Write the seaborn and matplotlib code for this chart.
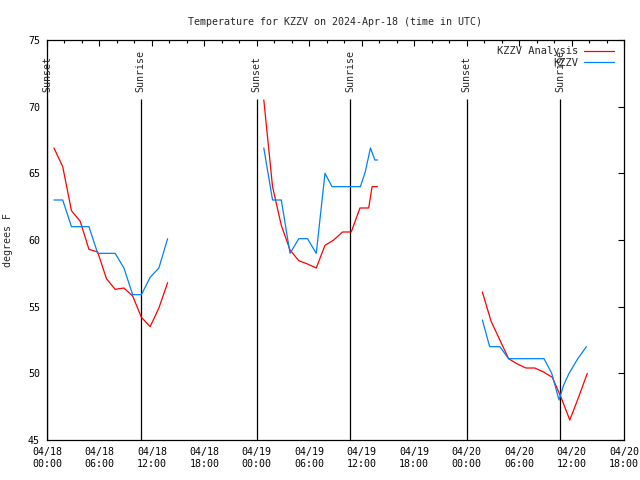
import pandas as pd
import matplotlib
matplotlib.use("Agg")
import matplotlib.pyplot as plt
import matplotlib.dates as mdates
from matplotlib.lines import Line2D
import seaborn as sns

# analysis (red) and station obs (blue), one block per day
day1_times = ["2024-04-18 00:48", "2024-04-18 01:48", "2024-04-18 02:48", "2024-04-18 03:48",
              "2024-04-18 04:48", "2024-04-18 05:48", "2024-04-18 06:48", "2024-04-18 07:48",
              "2024-04-18 08:48", "2024-04-18 09:48", "2024-04-18 10:48", "2024-04-18 11:48",
              "2024-04-18 12:48", "2024-04-18 13:48"]
day1_analysis = [66.9, 65.5, 62.2, 61.4, 59.3, 59.1, 57.1, 56.3, 56.4, 55.8, 54.2, 53.5, 54.9, 56.8]
day1_obs = [63.0, 63.0, 61.0, 61.0, 61.0, 59.0, 59.0, 59.0, 57.9, 55.9, 55.9, 57.2, 57.9, 60.1]

day2_analysis_times = ["2024-04-19 00:48", "2024-04-19 01:48", "2024-04-19 02:48", "2024-04-19 03:48",
                       "2024-04-19 04:48", "2024-04-19 05:48", "2024-04-19 06:48", "2024-04-19 07:48",
                       "2024-04-19 08:48", "2024-04-19 09:48", "2024-04-19 10:48", "2024-04-19 11:48",
                       "2024-04-19 12:48", "2024-04-19 13:11", "2024-04-19 13:48"]
day2_analysis = [70.5, 64.0, 61.1, 59.25, 58.45, 58.2, 57.9, 59.6, 60.0, 60.6, 60.6, 62.4, 62.4, 64.0, 64.0]
day2_obs_times = ["2024-04-19 00:48", "2024-04-19 01:48", "2024-04-19 02:48", "2024-04-19 03:48",
                  "2024-04-19 04:48", "2024-04-19 05:48", "2024-04-19 06:48", "2024-04-19 07:48",
                  "2024-04-19 08:36", "2024-04-19 09:48", "2024-04-19 10:48", "2024-04-19 11:51",
                  "2024-04-19 12:24", "2024-04-19 13:00", "2024-04-19 13:30", "2024-04-19 13:48"]
day2_obs = [66.9, 63.0, 63.0, 59.0, 60.1, 60.1, 59.0, 65.0, 64.0, 64.0, 64.0, 64.0, 65.1, 66.9, 66.0, 66.0]

day3_analysis_times = ["2024-04-20 01:48", "2024-04-20 02:48", "2024-04-20 03:48", "2024-04-20 04:48",
                       "2024-04-20 05:48", "2024-04-20 06:48", "2024-04-20 07:48", "2024-04-20 08:48",
                       "2024-04-20 09:48", "2024-04-20 10:48", "2024-04-20 11:48", "2024-04-20 12:48",
                       "2024-04-20 13:48"]
day3_analysis = [56.1, 53.9, 52.5, 51.1, 50.7, 50.4, 50.4, 50.1, 49.7, 48.2, 46.5, 48.2, 50.0]
day3_obs_times = ["2024-04-20 01:48", "2024-04-20 02:38", "2024-04-20 03:48", "2024-04-20 04:48",
                  "2024-04-20 05:48", "2024-04-20 06:48", "2024-04-20 07:48", "2024-04-20 08:51",
                  "2024-04-20 09:44", "2024-04-20 10:34", "2024-04-20 11:05", "2024-04-20 11:43",
                  "2024-04-20 12:43", "2024-04-20 13:42"]
day3_obs = [54.0, 52.0, 52.0, 51.1, 51.1, 51.1, 51.1, 51.1, 50.0, 48.0, 49.1, 50.0, 51.1, 52.0]

sunset_times = ["2024-04-18 00:02", "2024-04-19 00:00", "2024-04-20 00:01"]
sunrise_times = ["2024-04-18 10:42", "2024-04-19 10:39", "2024-04-20 10:43"]

x_start = pd.Timestamp("2024-04-18 00:00")
x_end = pd.Timestamp("2024-04-20 18:00")

series_colors = {"KZZV Analysis": "#ff0000", "KZZV": "#0080ff"}


def block(times, temps, name, seg):
    return pd.DataFrame({"time": pd.to_datetime(times), "temp": temps,
                         "series": name, "segment": seg})


df = pd.concat([
    block(day1_times, day1_analysis, "KZZV Analysis", "a1"),
    block(day2_analysis_times, day2_analysis, "KZZV Analysis", "a2"),
    block(day3_analysis_times, day3_analysis, "KZZV Analysis", "a3"),
    block(day1_times, day1_obs, "KZZV", "o1"),
    block(day2_obs_times, day2_obs, "KZZV", "o2"),
    block(day3_obs_times, day3_obs, "KZZV", "o3"),
], ignore_index=True)

sns.set_theme(style="white")
plt.rcParams["font.family"] = ["DejaVu Sans Mono", "DejaVu Sans"]
plt.rcParams["font.size"] = 7.2

fig = plt.figure(figsize=(6.4, 4.8), dpi=100)
ax = fig.add_axes([0.0734, 0.0833, 0.9016, 0.8334])

# sunrise / sunset markers
for t in sunset_times + sunrise_times:
    ts = pd.Timestamp(t)
    ax.vlines(ts, 45, 70.6, color="black", linewidth=0.9, zorder=1)
for t in sunset_times:
    ax.text(pd.Timestamp(t), 71.1, "Sunset", rotation=90, ha="center", va="bottom", fontsize=7.2)
for t in sunrise_times:
    ax.text(pd.Timestamp(t), 71.1, "Sunrise", rotation=90, ha="center", va="bottom", fontsize=7.2)

sns.lineplot(data=df, x="time", y="temp", hue="series", units="segment", estimator=None,
             palette=series_colors, linewidth=0.9, legend=False, ax=ax, zorder=3)

ax.set_xlim(x_start, x_end)
ax.set_ylim(45, 75)
ax.set_yticks([45, 50, 55, 60, 65, 70, 75])
ax.xaxis.set_major_locator(mdates.HourLocator(byhour=[0, 6, 12, 18]))
ax.xaxis.set_minor_locator(mdates.HourLocator(byhour=range(0, 24, 2)))
ax.xaxis.set_major_formatter(mdates.DateFormatter("%m/%d\n%H:%M"))

ax.tick_params(axis="both", which="both", direction="in", top=True, right=True,
               colors="black", labelsize=7.2)
ax.tick_params(axis="both", which="major", length=4, width=0.8, pad=5)
ax.tick_params(axis="x", which="minor", length=2.2, width=0.8)
for side in ax.spines.values():
    side.set_color("black")
    side.set_linewidth(0.9)

ax.set_xlabel("")
ax.set_ylabel("degrees F", fontsize=7.2, labelpad=11)
ax.set_title("Temperature for KZZV on 2024-Apr-18 (time in UTC)", fontsize=7.2, pad=11)

handles = [Line2D([], [], color=c, linewidth=0.9) for c in series_colors.values()]
ax.legend(handles, list(series_colors.keys()), loc="upper right", frameon=False,
          markerfirst=False, fontsize=7.5, handlelength=2.9, handletextpad=0.55,
          labelspacing=0.15, borderaxespad=0.2, bbox_to_anchor=(0.993, 1.0))

fig.savefig("out.png", dpi=100)
plt.close(fig)
